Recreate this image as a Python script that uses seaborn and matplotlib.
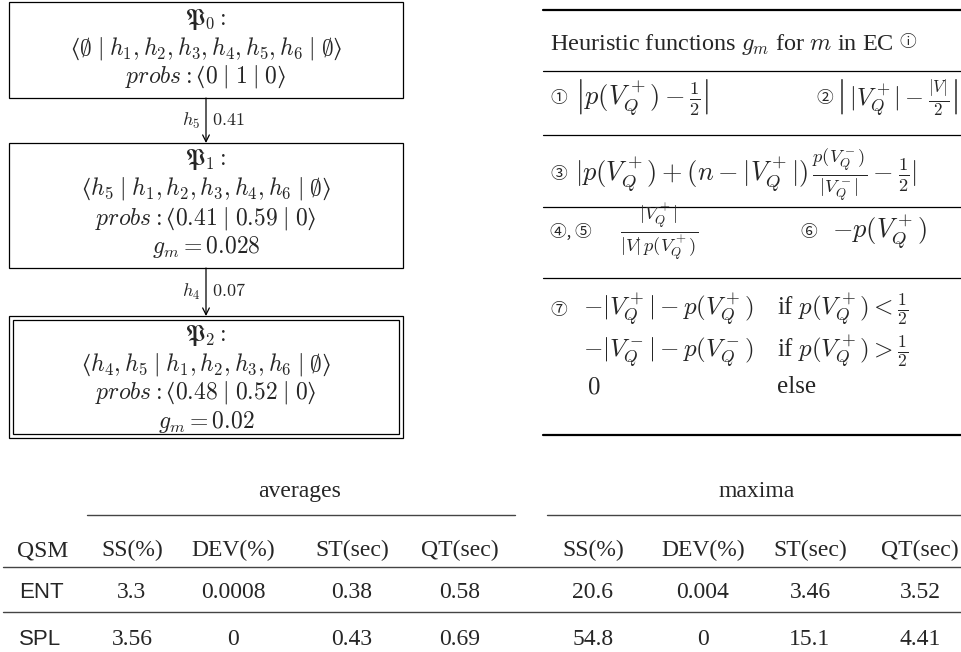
import matplotlib
matplotlib.use('Agg')
import matplotlib.pyplot as plt
from matplotlib.patches import Rectangle
import seaborn as sns

# search tree nodes
node_known = [r'\emptyset', r'h_5', r'h_4,h_5']
node_open = [r'h_1,h_2,h_3,h_4,h_5,h_6', r'h_1,h_2,h_3,h_4,h_6',
             r'h_1,h_2,h_3,h_6']
node_probs = [(0, 1, 0), (0.41, 0.59, 0), (0.48, 0.52, 0)]
node_gm = [None, 0.028, 0.02]
edge_vars = [r'h_5', r'h_4']
edge_probs = [0.41, 0.07]

# heuristic functions table
heur_title = r'Heuristic functions $g_m$ for $m$ in EC'
heur_labels = ['①', '②', '③', '④, ⑤', '⑥', '⑦']
heur_formulas = [
    r'$\left|p(V_Q^+)-\frac{1}{2}\right|$',
    r'$\left|\,|V_Q^+|-\frac{|V|}{2}\right|$',
    r'$|p(V_Q^+)+(n-|V_Q^+|)\,\frac{p(V_Q^-)}{|V_Q^-|}-\frac{1}{2}|$',
    r'$\frac{|V_Q^+|}{|V|\,p(V_Q^+)}$',
    r'$-p(V_Q^+)$',
]
case_values = [r'$-|V_Q^+|-p(V_Q^+)$', r'$-|V_Q^-|-p(V_Q^-)$', r'$0$']
case_conds = [r'if $p(V_Q^+)<\frac{1}{2}$', r'if $p(V_Q^+)>\frac{1}{2}$', 'else']

# results table
qsm = ['ENT', 'SPL']
metrics = ['SS(%)', 'DEV(%)', 'ST(sec)', 'QT(sec)']
averages = [[3.3, 0.0008, 0.38, 0.58], [3.56, 0, 0.43, 0.69]]
maxima = [[20.6, 0.004, 3.46, 3.52], [54.8, 0, 15.1, 4.41]]

sns.set_theme(style='white')
serif = ['Liberation Serif', 'DejaVu Sans', 'Noto Sans CJK JP']
plt.rcParams['font.family'] = serif
plt.rcParams['mathtext.fontset'] = 'cm'
FS = 17
MFS = 19  # math size in the heuristic table
CIRC = ['Noto Sans CJK JP', 'DejaVu Sans']

fig = plt.figure(figsize=(9.62, 6.52), dpi=100)
ax = fig.add_axes([0, 0, 1, 1])
ax.set_xlim(0, 962)
ax.set_ylim(652, 0)
ax.axis('off')

# ---- tree ----
cx = 206
tops = [2, 143, 316]
bottoms = [98, 268, 438]
for i in range(3):
    t, b = tops[i], bottoms[i]
    ax.add_patch(Rectangle((9, t), 394, b - t, fill=False, ec='black', lw=0.9))
    if i == 2:
        ax.add_patch(Rectangle((13, t + 4), 386, b - t - 8, fill=False,
                               ec='black', lw=0.9))
        y0 = t + 19
    else:
        y0 = t + 17
    p = node_probs[i]
    lines = [
        r'$\mathfrak{P}_%d:$' % i,
        r'$⟨%s\;|\;%s\;|\;\emptyset⟩$' % (node_known[i], node_open[i]),
        r'$probs:⟨%g\;|\;%g\;|\;%g⟩$' % p,
    ]
    if node_gm[i] is not None:
        lines.append(r'$g_m=%g$' % node_gm[i])
    for k, s in enumerate(lines):
        ax.text(cx, y0 + 29 * k, s, ha='center', va='center', fontsize=FS)

for i in range(2):
    y1, y2 = bottoms[i], tops[i + 1]
    ax.annotate('', xy=(cx, y2), xytext=(cx, y1),
                arrowprops=dict(arrowstyle='->', lw=0.9, color='black',
                                shrinkA=0, shrinkB=0))
    ym = (y1 + y2) / 2
    ax.text(cx - 6, ym, r'$%s$' % edge_vars[i], ha='right', va='center',
            fontsize=13)
    ax.text(cx + 6, ym, r'$%g$' % edge_probs[i], ha='left', va='center',
            fontsize=13)

# ---- heuristic table ----
xl, xr = 543, 962
for y, w in [(10, 1.6), (71, 0.9), (135, 0.9), (207, 0.9), (278, 0.9),
             (435, 1.6)]:
    ax.plot([xl, xr], [y, y], color='black', lw=w)

title = ax.text(550, 50, heur_title, ha='left', va='baseline', fontsize=17.5)
fig.canvas.draw()
bb = title.get_window_extent().transformed(ax.transData.inverted())
ax.text(max(bb.x0, bb.x1) + 6, 43, 'ⓘ', ha='left', va='center', fontsize=12,
        family=CIRC)

lab_pos = [(550, 98), (816, 98), (550, 175), (550, 232), (800, 232), (550, 310)]
form_pos = [(575, 98), (836, 98), (575, 175), (620, 232), (832, 232)]
form_size = [MFS, 17.5, MFS, MFS, MFS]
for s, (x, y) in zip(heur_labels, lab_pos):
    ax.text(x, y, s, ha='left', va='center', fontsize=12, family=CIRC)
for s, (x, y), fs in zip(heur_formulas, form_pos, form_size):
    ax.text(x, y, s, ha='left', va='center', fontsize=fs)
for k, (v, c) in enumerate(zip(case_values, case_conds)):
    y = [310, 352, 387][k]
    ax.text(583 if k < 2 else 587, y, v, ha='left', va='center', fontsize=18)
    ax.text(777, y, c, ha='left', va='center', fontsize=18)

# ---- results table ----
ax.text(300, 497, 'averages', ha='center', va='baseline', fontsize=FS)
ax.text(757, 497, 'maxima', ha='center', va='baseline', fontsize=FS)
ax.plot([87, 515], [515, 515], color='#444444', lw=1.0)
ax.plot([547, 962], [515, 515], color='#444444', lw=1.0)
ax.plot([3, 962], [567, 567], color='#444444', lw=1.0)
ax.plot([3, 962], [612, 612], color='#444444', lw=1.0)

col_x = [132, 233, 352, 460, 593, 703, 810, 920]
ax.text(17, 556, 'QSM', ha='left', va='baseline', fontsize=FS)
for x, m in zip(col_x, metrics + metrics):
    ax.text(x, 556, m, ha='center', va='baseline', fontsize=FS)
for r, name in enumerate(qsm):
    yb = [598, 645][r]
    ax.text(19, yb, name, ha='left', va='baseline', fontsize=FS - 1,
            family='Liberation Sans')
    for x, v in zip(col_x, averages[r] + maxima[r]):
        ax.text(x, yb, f'{v:g}', ha='center', va='baseline', fontsize=FS)

fig.savefig('out.png', dpi=100)
